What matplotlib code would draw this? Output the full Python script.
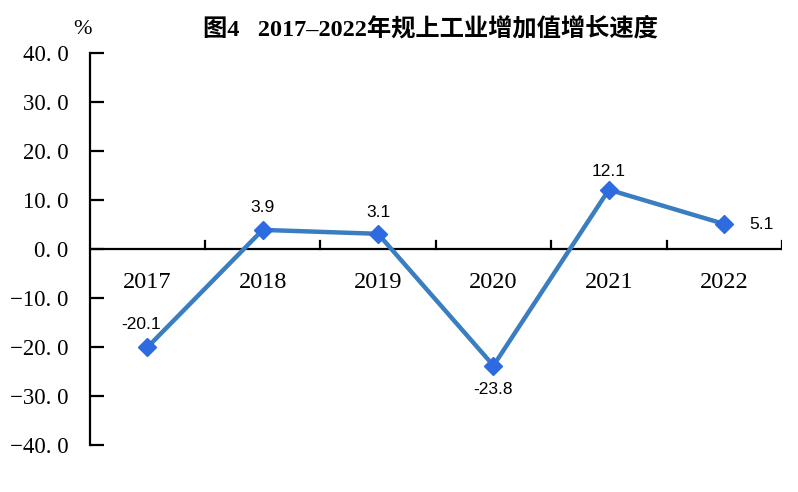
import matplotlib
matplotlib.use("Agg")
import matplotlib.pyplot as plt
import numpy as np

# data
years = ["2017", "2018", "2019", "2020", "2021", "2022"]
growth = [-20.1, 3.9, 3.1, -23.8, 12.1, 5.1]
yticks = [40, 30, 20, 10, 0, -10, -20, -30, -40]
title = "图4   2017–2022年规上工业增加值增长速度"

line_color = "#3A7DC0"
marker_color = "#2F6BE0"

fig = plt.figure(figsize=(7.98, 4.92), dpi=100)
ax = fig.add_axes([89.5 / 798, 1 - 445 / 492, (782 - 89.5) / 798, (445 - 53) / 492])

x = np.arange(len(years))
ax.plot(x, growth, color=line_color, lw=3.2, marker="D", ms=9,
        mfc=marker_color, mec=marker_color, zorder=3)

ax.set_xlim(-0.5, len(years) - 0.5)
ax.set_ylim(-40, 40)

# spines: left axis plus horizontal zero line
for s in ["top", "right", "bottom"]:
    ax.spines[s].set_visible(False)
ax.spines["left"].set_linewidth(1.6)
ax.axhline(0, color="black", lw=1.6, zorder=2)

# y ticks pointing inside, SimSun-like spaced decimals
ax.set_yticks(yticks)
ax.set_yticklabels([("−" if v < 0 else "") + "%d. %d" % (abs(v), 0) for v in yticks],
                   fontfamily="Liberation Serif", fontsize=16.5)
ax.tick_params(axis="y", direction="in", length=10, width=1.6, pad=15)

# category boundary ticks sitting on the zero line
ax.set_xticks([])
for b in np.arange(0.5, len(years), 1.0):
    ax.plot([b, b], [0, 1.6], color="black", lw=1.6, zorder=2)

for i, yr in enumerate(years):
    ax.text(i, -6.8, yr, ha="center", va="center", fontsize=17.5,
            fontfamily="Liberation Serif")

# data labels
offsets = [(-0.05, 4.6, "center"), (0, 4.6, "center"), (0, 4.4, "center"),
           (0, -4.8, "center"), (0, 3.8, "center"), (0.32, 0, "center")]
for i, (v, (dx, dy, ha)) in enumerate(zip(growth, offsets)):
    ax.text(i + dx, v + dy, "%.1f" % v, ha=ha, va="center", fontsize=12.5,
            fontfamily="Liberation Sans")

fig.text(82 / 798, 1 - 30 / 492, "%", ha="center", va="center", fontsize=16,
         fontfamily="Liberation Serif")
fig.text(430 / 798, 1 - 29 / 492, title, ha="center", va="center", fontsize=17.5,
         fontweight="bold", fontfamily=["Liberation Serif", "Noto Sans CJK SC"])

fig.savefig("out.png", dpi=100)
